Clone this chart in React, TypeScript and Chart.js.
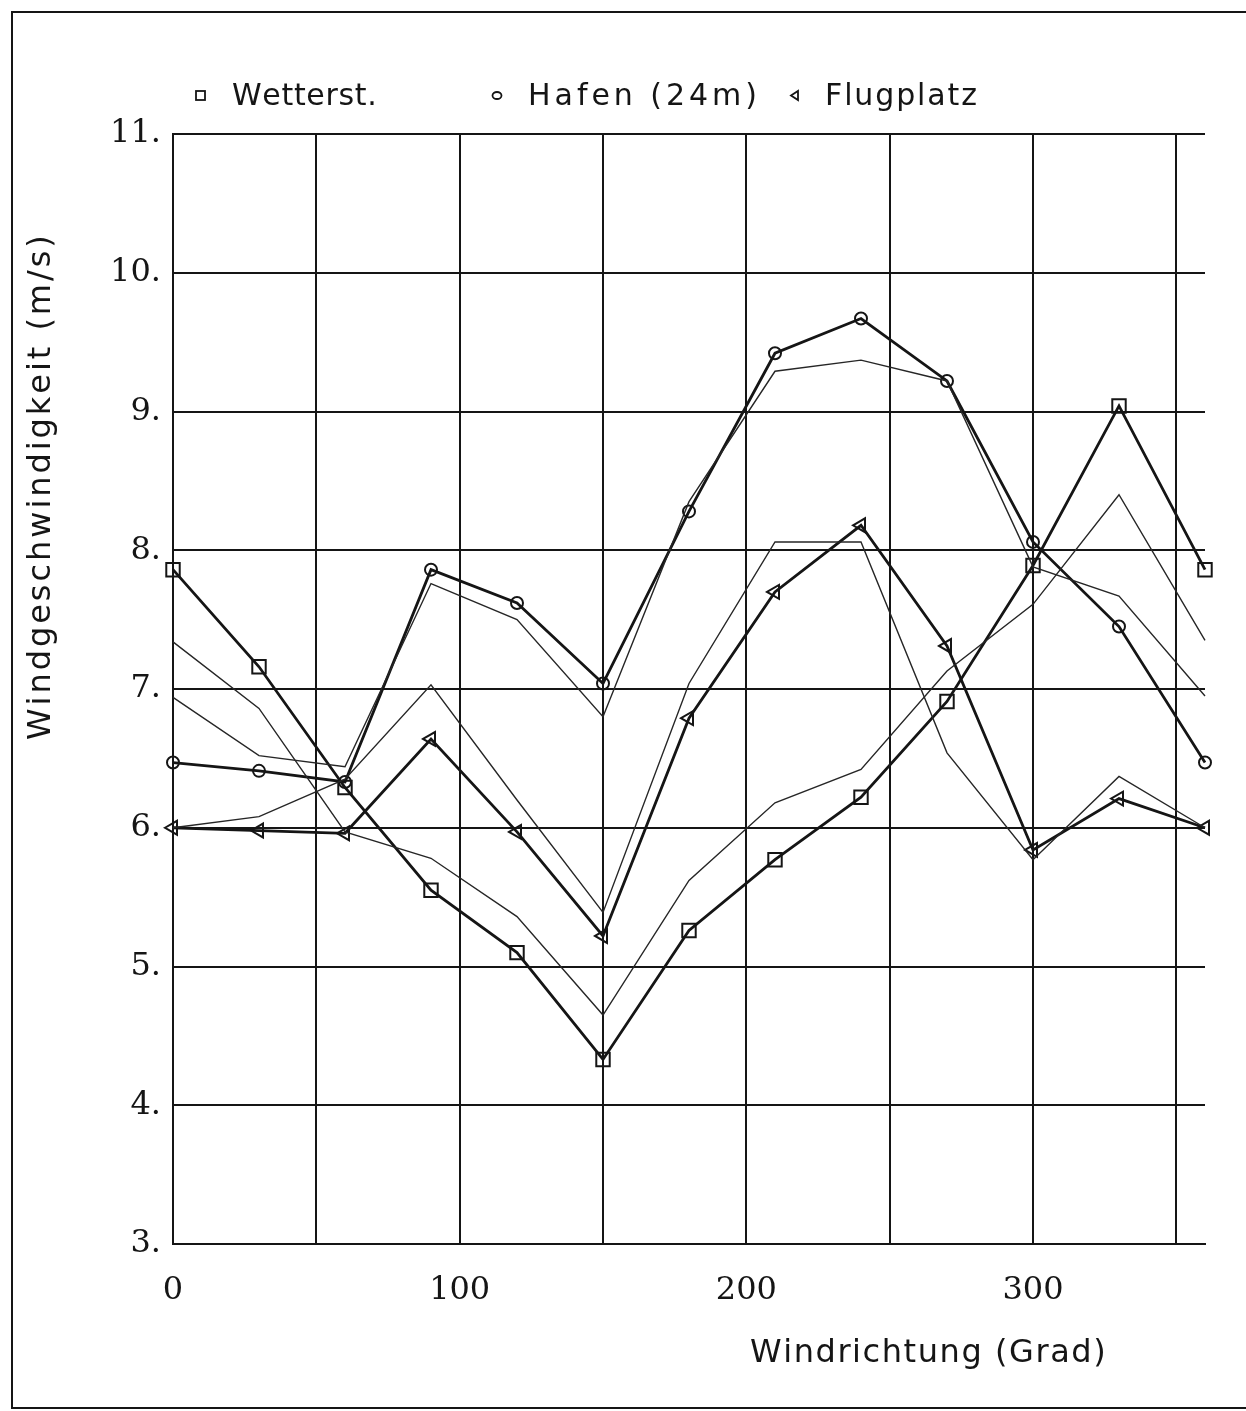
import React, { useEffect, useRef } from 'react';
import { Chart, registerables } from 'chart.js';

Chart.register(...registerables);

// ---- data ----
const directions = [0, 30, 60, 90, 120, 150, 180, 210, 240, 270, 300, 330, 360];

const wetterstMeasured = [7.86, 7.16, 6.29, 5.55, 5.10, 4.33, 5.26, 5.77, 6.22, 6.91, 7.89, 9.04, 7.86];
const hafenMeasured = [6.47, 6.41, 6.33, 7.86, 7.62, 7.04, 8.28, 9.42, 9.67, 9.22, 8.06, 7.45, 6.47];
const flugplatzMeasured = [6.00, 5.98, 5.96, 6.64, 5.97, 5.22, 6.79, 7.70, 8.18, 7.31, 5.84, 6.21, 6.00];

const wetterstModel = [7.34, 6.86, 5.97, 5.78, 5.36, 4.65, 5.62, 6.18, 6.42, 7.13, 7.61, 8.40, 7.35];
const hafenModel = [6.94, 6.52, 6.44, 7.76, 7.50, 6.80, 8.35, 9.29, 9.37, 9.22, 7.88, 7.67, 6.95];
const flugplatzModel = [6.00, 6.08, 6.35, 7.03, 6.20, 5.39, 7.04, 8.06, 8.06, 6.54, 5.77, 6.37, 6.00];

const legendLabels = ['Wetterst.', 'Hafen (24m)', 'Flugplatz'];
const xTickLabels = [0, 100, 200, 300];
const xTitle = 'Windrichtung (Grad)';
const yTitle = 'Windgeschwindigkeit (m/s)';

const INK = '#151515';

const toXY = (vals: number[]) => directions.map((d, i) => ({ x: d, y: vals[i] }));

function drawSpaced(ctx: CanvasRenderingContext2D, text: string, x: number, y: number, width: number) {
  const chars = Array.from(text);
  const natural = ctx.measureText(text).width;
  const extra = chars.length > 1 ? (width - natural) / (chars.length - 1) : 0;
  let cx = x;
  for (const ch of chars) {
    ctx.fillText(ch, cx, y);
    cx += ctx.measureText(ch).width + extra;
  }
}

const decorPlugin = {
  id: 'decor',
  afterDraw(chart: any) {
    const ctx: CanvasRenderingContext2D = chart.ctx;
    ctx.save();
    // outer frame
    ctx.strokeStyle = INK;
    ctx.lineWidth = 2;
    ctx.beginPath();
    ctx.moveTo(1260, 12);
    ctx.lineTo(12, 12);
    ctx.lineTo(12, 1408);
    ctx.lineTo(1260, 1408);
    ctx.stroke();

    // legend
    ctx.fillStyle = INK;
    ctx.textAlign = 'left';
    ctx.textBaseline = 'alphabetic';
    ctx.font = '30px "DejaVu Sans"';
    ctx.lineWidth = 1.8;
    // square
    ctx.strokeRect(196, 91, 9, 9);
    drawSpaced(ctx, legendLabels[0], 232, 105, 143);
    // circle
    ctx.beginPath();
    ctx.ellipse(497, 95.5, 4.5, 3.5, 0, 0, Math.PI * 2);
    ctx.stroke();
    drawSpaced(ctx, legendLabels[1], 528, 105, 229);
    // triangle pointing left
    ctx.beginPath();
    ctx.moveTo(791, 95.5);
    ctx.lineTo(798, 91);
    ctx.lineTo(798, 100);
    ctx.closePath();
    ctx.stroke();
    drawSpaced(ctx, legendLabels[2], 825, 105, 152);

    // axis titles
    ctx.font = '32px "DejaVu Sans"';
    drawSpaced(ctx, xTitle, 750, 1362, 355);
    ctx.save();
    ctx.translate(50, 740);
    ctx.rotate(-Math.PI / 2);
    drawSpaced(ctx, yTitle, 0, 0, 503);
    ctx.restore();
    ctx.restore();
  },
};

export default function App() {
  const canvasRef = useRef<HTMLCanvasElement | null>(null);

  useEffect(() => {
    if (!canvasRef.current) return;
    const thin = {
      borderColor: '#262626',
      borderWidth: 1.4,
      pointRadius: 0,
      fill: false,
      tension: 0,
      clip: false as any,
    };
    const thick = {
      borderColor: INK,
      borderWidth: 2.8,
      pointBorderColor: INK,
      pointBackgroundColor: 'rgba(255,255,255,0)',
      pointBorderWidth: 2,
      fill: false,
      tension: 0,
      clip: false as any,
    };
    const chart = new Chart(canvasRef.current, {
      type: 'line',
      data: {
        datasets: [
          { ...thin, label: 'Wetterst. (Modell)', data: toXY(wetterstModel) },
          { ...thin, label: 'Hafen (Modell)', data: toXY(hafenModel) },
          { ...thin, label: 'Flugplatz (Modell)', data: toXY(flugplatzModel) },
          { ...thick, label: legendLabels[0], data: toXY(wetterstMeasured), pointStyle: 'rect', pointRadius: 9.5 },
          { ...thick, label: legendLabels[1], data: toXY(hafenMeasured), pointStyle: 'circle', pointRadius: 6 },
          { ...thick, label: legendLabels[2], data: toXY(flugplatzMeasured), pointStyle: 'triangle', pointRadius: 8, pointRotation: -90 },
        ] as any,
      },
      options: {
        responsive: false,
        animation: false,
        devicePixelRatio: 1,
        layout: { padding: { top: 134, right: 41, bottom: 0, left: 0 } },
        plugins: { legend: { display: false }, tooltip: { enabled: false } },
        scales: {
          x: {
            type: 'linear',
            min: 0,
            max: 360,
            ticks: {
              stepSize: 50,
              includeBounds: false,
              autoSkip: false,
              maxRotation: 0,
              padding: 27,
              color: INK,
              font: { family: 'DejaVu Serif', size: 32 },
              callback: (v: any) => (xTickLabels.includes(Number(v)) ? String(v) : ''),
            },
            grid: { color: INK, lineWidth: 2, drawTicks: false },
            border: { color: INK, width: 2 },
            afterFit: (s: any) => {
              s.height = 1411 - 1244;
            },
          },
          y: {
            min: 3,
            max: 11,
            ticks: {
              stepSize: 1,
              padding: 12,
              color: INK,
              font: { family: 'DejaVu Serif', size: 32 },
              callback: (v: any) => `${v}.`,
            },
            grid: { color: INK, lineWidth: 2, drawTicks: false },
            border: { color: INK, width: 2 },
            afterFit: (s: any) => {
              s.width = 173;
            },
          },
        } as any,
      },
      plugins: [decorPlugin],
    });
    return () => chart.destroy();
  }, []);

  return (
    <div style={{ position: 'absolute', left: 0, top: 0, width: 1246, height: 1411, background: '#fff' }}>
      <canvas ref={canvasRef} width={1246} height={1411} style={{ display: 'block' }} />
    </div>
  );
}
